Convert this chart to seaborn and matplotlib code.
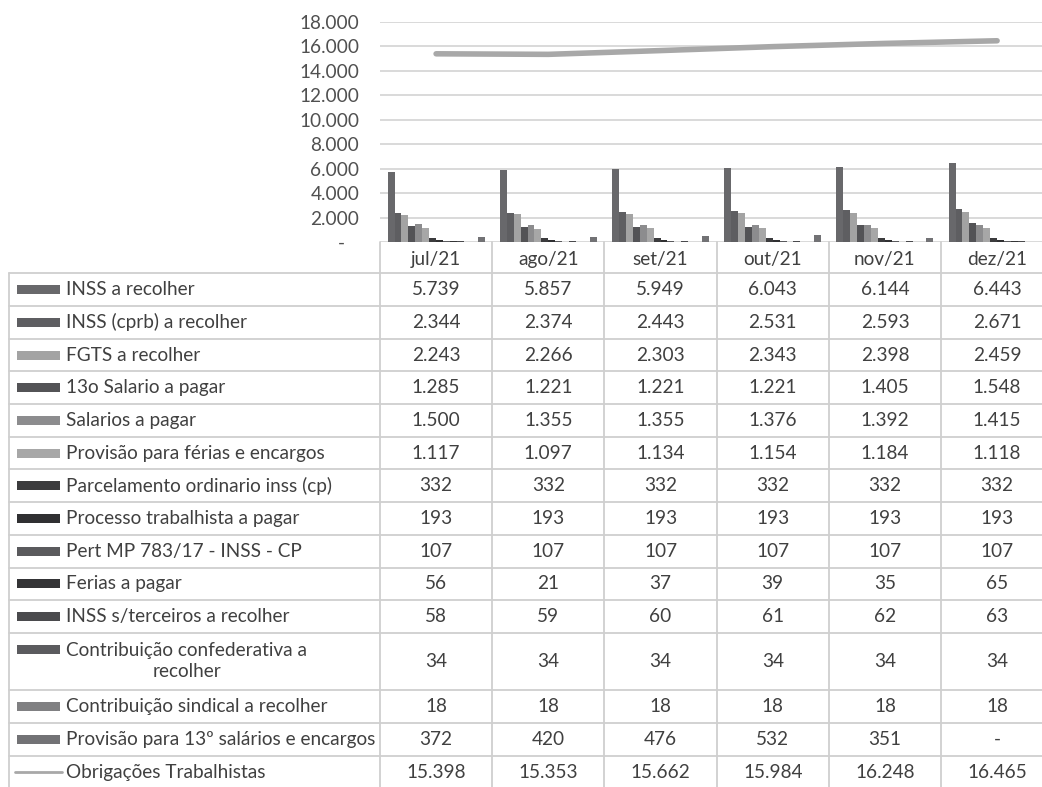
import numpy as np
import pandas as pd
import seaborn as sns
import matplotlib.pyplot as plt
from matplotlib.patches import Rectangle

# Data
meses = ['jul/21', 'ago/21', 'set/21', 'out/21', 'nov/21', 'dez/21']
series = [
    'INSS a recolher',
    'INSS (cprb) a recolher',
    'FGTS a recolher',
    '13o Salario a pagar',
    'Salarios a pagar',
    'Provisão para férias e encargos',
    'Parcelamento ordinario inss (cp)',
    'Processo trabalhista a pagar',
    'Pert MP 783/17 - INSS - CP',
    'Ferias a pagar',
    'INSS s/terceiros a recolher',
    'Contribuição confederativa a\nrecolher',
    'Contribuição sindical a recolher',
    'Provisão para 13º salários e encargos',
]
inss = [5739, 5857, 5949, 6043, 6144, 6443]
inss_cprb = [2344, 2374, 2443, 2531, 2593, 2671]
fgts = [2243, 2266, 2303, 2343, 2398, 2459]
decimo_terceiro = [1285, 1221, 1221, 1221, 1405, 1548]
salarios = [1500, 1355, 1355, 1376, 1392, 1415]
prov_ferias = [1117, 1097, 1134, 1154, 1184, 1118]
parcelamento = [332, 332, 332, 332, 332, 332]
processo = [193, 193, 193, 193, 193, 193]
pert = [107, 107, 107, 107, 107, 107]
ferias = [56, 21, 37, 39, 35, 65]
terceiros = [58, 59, 60, 61, 62, 63]
confederativa = [34, 34, 34, 34, 34, 34]
sindical = [18, 18, 18, 18, 18, 18]
prov_13 = [372, 420, 476, 532, 351, 0]
obrigacoes = [15398, 15353, 15662, 15984, 16248, 16465]

valores = [inss, inss_cprb, fgts, decimo_terceiro, salarios, prov_ferias,
           parcelamento, processo, pert, ferias, terceiros, confederativa,
           sindical, prov_13]

cores = ['#68686b', '#5e5e61', '#a3a3a3', '#535356', '#8c8c8e', '#a7a7a7',
         '#3b3b3d', '#303032', '#5a5a5d', '#343436', '#4a4a4d', '#5b5b5e',
         '#808082', '#727275']
cor_linha = '#a8a8a8'

df = pd.DataFrame([
    {'mes': m, 'serie': s, 'valor': v[i]}
    for s, v in zip(series, valores) for i, m in enumerate(meses)
])

def fmt(v):
    return '-' if v == 0 else f'{v:,}'.replace(',', '.')

# Style
sns.set_style('white')
plt.rcParams['font.family'] = ['Lato', 'DejaVu Sans']
txt = '#404040'
fs = 13.7

W, H = 1042, 787
fig = plt.figure(figsize=(W / 100, H / 100), dpi=100)

# Chart area
x0, colw = 380, 112.2
y_top, y_zero = 22, 242
ax = fig.add_axes([x0 / W, 1 - y_zero / H, 6 * colw / W, (y_zero - y_top) / H])
sns.barplot(data=df, x='mes', y='valor', hue='serie', order=meses,
            hue_order=series, palette=cores, width=0.865, gap=0,
            saturation=1, linewidth=0, legend=False, ax=ax)
sns.lineplot(x=np.arange(len(meses)), y=obrigacoes, color=cor_linha,
             linewidth=4, solid_capstyle='round', ax=ax)
ax.set_xlim(-0.5, 5.5)
ax.set_ylim(0, 18000)
ticks = list(range(0, 18001, 2000))
ax.set_yticks(ticks)
ax.set_yticklabels([fmt(t) if t else '-   ' for t in ticks])
ax.set_xticks([])
ax.set_xlabel('')
ax.set_ylabel('')
ax.tick_params(axis='y', length=0, pad=15, labelsize=fs, labelcolor='#505050')
ax.yaxis.grid(True, color='#d3d3d3', linewidth=1.2)
ax.set_axisbelow(True)
sns.despine(ax=ax, left=True, bottom=True)

# Data table drawn in pixel coordinates
tax = fig.add_axes([0, 0, 1, 1])
tax.set_xlim(0, W)
tax.set_ylim(H, 0)
tax.axis('off')
linha = '#cfcfcf'

heights = [32.7] * 11 + [56.7] + [33] * 3
bounds = [273.3]
for h in heights:
    bounds.append(bounds[-1] + h)

for b in bounds:
    tax.plot([9, W], [b, b], color=linha, lw=1.3)
tax.plot([9, 9], [bounds[0], H], color=linha, lw=1.3)
for k in range(6):
    xv = x0 + k * colw
    tax.plot([xv, xv], [y_zero, H], color=linha, lw=1.3)
    tax.text(xv + colw / 2, 259, meses[k], ha='center', va='center',
             fontsize=fs, color=txt)

for r, (nome, v) in enumerate(zip(series + ['Obrigações Trabalhistas'],
                                  valores + [obrigacoes])):
    yc = (bounds[r] + bounds[r + 1]) / 2
    if r < len(series):
        ky = yc - 11.5 if '\n' in nome else yc
        tax.add_patch(Rectangle((17, ky - 4.5), 43, 9, color=cores[r], lw=0))
    else:
        tax.plot([15, 62], [yc, yc], color=cor_linha, lw=2)
    tax.text(66, yc, nome, ha='left', va='center', fontsize=fs, color=txt,
             multialignment='center', linespacing=1.3)
    for k in range(6):
        tax.text(x0 + k * colw + colw / 2, yc, fmt(v[k]), ha='center',
                 va='center', fontsize=fs, color=txt)

plt.savefig('out.png', dpi=100)
